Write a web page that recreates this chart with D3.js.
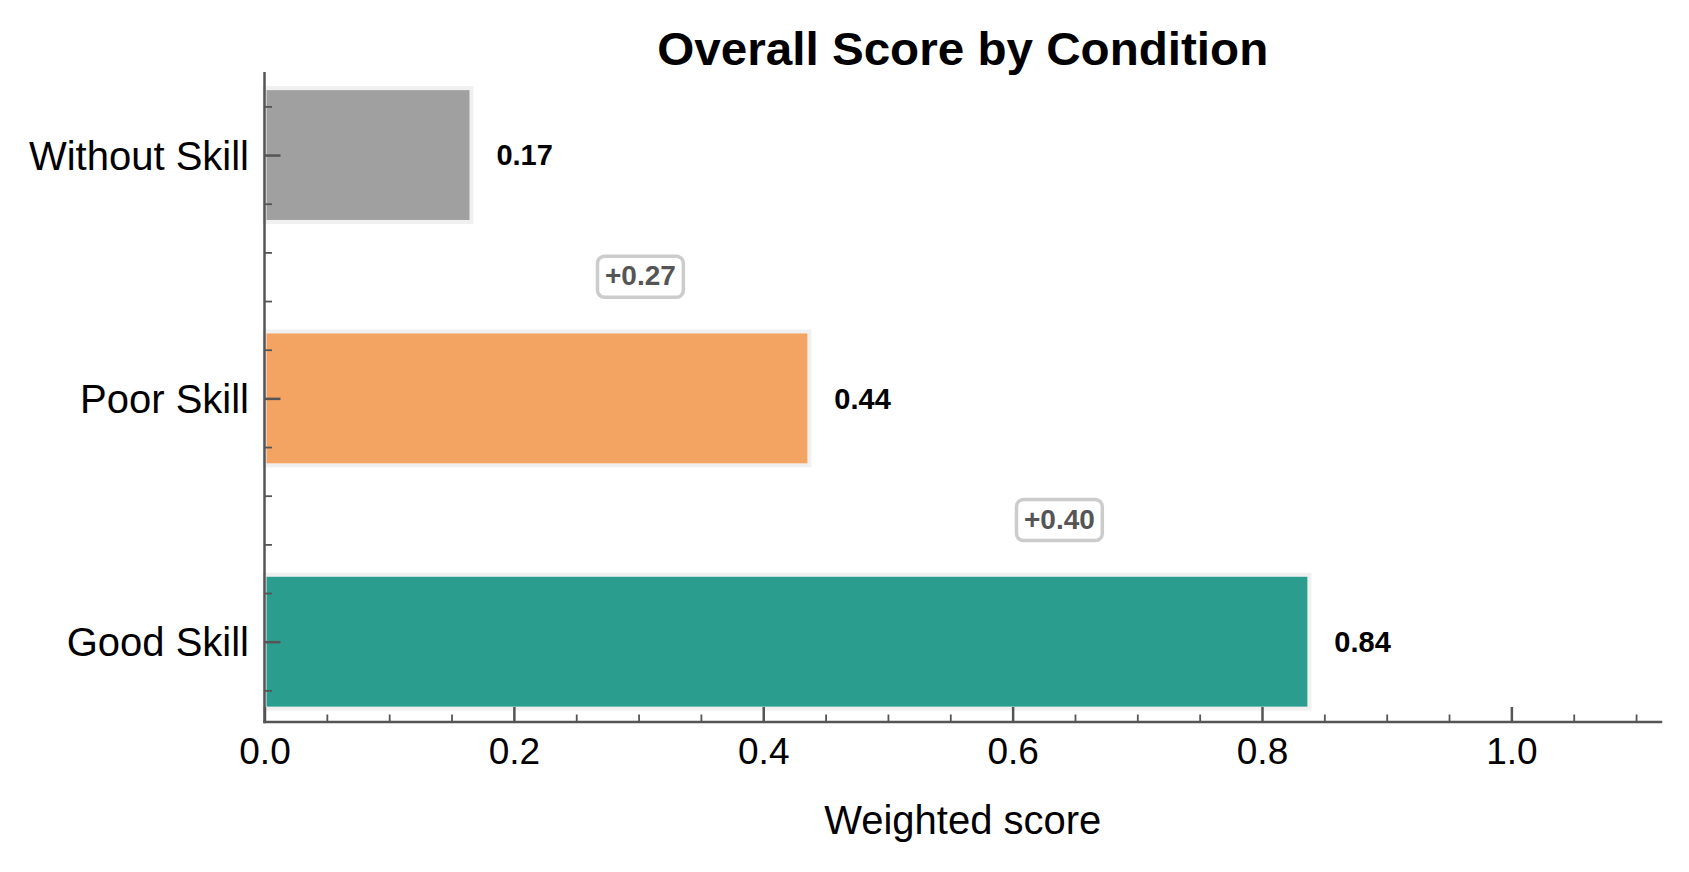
<!DOCTYPE html>
<html>
<head>
<meta charset="utf-8">
<script src="https://cdn.jsdelivr.net/npm/d3@7"></script>
<style>
  body { margin: 0; background: #fff; }
  text { font-family: "Liberation Sans", Arial, Helvetica, sans-serif; }
</style>
</head>
<body>
<div id="chart"></div>
<script>
// === data ===
const categories = ["Without Skill", "Poor Skill", "Good Skill"];
const scores = [0.166, 0.437, 0.838];
const barColors = ["#a0a0a0", "#f4a462", "#2a9d8f"];
const xTicks = [0, 0.2, 0.4, 0.6, 0.8, 1.0];
const xMinorTicks = [0.05, 0.1, 0.15, 0.25, 0.3, 0.35, 0.45, 0.5, 0.55, 0.65, 0.7, 0.75, 0.85, 0.9, 0.95, 1.05, 1.1];
const yMinorTicks = [-0.2, 0.2, 0.4, 0.6, 0.8, 1.2, 1.4, 1.6, 1.8, 2.2];

const width = 1689, height = 872;
const plot = {left: 264.5, right: 1661, top: 73.3, bottom: 722};
const axisColor = "#555555";

const svg = d3.select("#chart").append("svg")
    .attr("width", width).attr("height", height)
    .style("display", "block");

const x = d3.scaleLinear().domain([0, 1.12]).range([plot.left, plot.right]);
const y = d3.scaleLinear().domain([-0.336, 2.330]).range([plot.top, plot.bottom]);
const barH = 0.55;

// bars
svg.selectAll("rect.bar")
    .data(scores)
    .join("rect")
    .attr("class", "bar")
    .attr("x", x(0))
    .attr("y", (d, i) => y(i - barH / 2))
    .attr("width", d => x(d) - x(0))
    .attr("height", y(barH) - y(0))
    .attr("fill", (d, i) => barColors[i])
    .attr("stroke", "#f0f0f0")
    .attr("stroke-width", 4);

// value labels
svg.selectAll("text.val")
    .data(scores)
    .join("text")
    .attr("class", "val")
    .attr("x", d => x(d + 0.02))
    .attr("y", (d, i) => y(i) + 10.4)
    .attr("font-size", 29)
    .attr("font-weight", "bold")
    .attr("fill", "#000")
    .text(d => d.toFixed(2));

// delta boxes between bars
const deltas = d3.pairs(scores).map(([a, b], i) => ({mid: (a + b) / 2, diff: b - a, pos: i + 0.5}));
const dg = svg.selectAll("g.delta").data(deltas).join("g").attr("class", "delta");
dg.append("rect")
    .attr("rx", 7).attr("ry", 7)
    .attr("fill", "#fff")
    .attr("stroke", "#cccccc")
    .attr("stroke-width", 3.5);
dg.append("text")
    .attr("x", d => x(d.mid))
    .attr("y", d => y(d.pos) + 8.5)
    .attr("text-anchor", "middle")
    .attr("font-size", 28)
    .attr("font-weight", "bold")
    .attr("fill", "#555555")
    .text(d => "+" + d.diff.toFixed(2));
dg.each(function(d) {
    const g = d3.select(this);
    const bb = g.select("text").node().getBBox();
    g.select("rect")
        .attr("x", bb.x - 7.5)
        .attr("width", bb.width + 15)
        .attr("y", y(d.pos) - 20.5)
        .attr("height", 41);
});

// x axis
const xAxis = svg.append("g").attr("transform", `translate(0,${plot.bottom})`);
xAxis.call(d3.axisBottom(x).tickValues(xTicks).tickSizeInner(-15).tickSizeOuter(0)
    .tickFormat(d3.format(".1f")));
xAxis.selectAll("line").attr("stroke", axisColor).attr("stroke-width", 2.5);
xAxis.append("g").call(d3.axisBottom(x).tickValues(xMinorTicks).tickSizeInner(-7.5).tickSizeOuter(0).tickFormat(""))
    .call(g => g.selectAll("line").attr("stroke", axisColor).attr("stroke-width", 1.8))
    .select(".domain").remove();
xAxis.select(".domain").remove();
xAxis.selectAll("text")
    .attr("y", 42).attr("dy", null)
    .attr("font-size", 37).attr("fill", "#000")
    .attr("font-family", "'Liberation Sans', Arial, sans-serif");

// y axis
const yAxis = svg.append("g").attr("transform", `translate(${plot.left},0)`);
yAxis.call(d3.axisLeft(y).tickValues([0, 1, 2]).tickSizeInner(-16).tickSizeOuter(0)
    .tickFormat((d, i) => categories[i]));
yAxis.selectAll("line").attr("stroke", axisColor).attr("stroke-width", 2.5);
yAxis.append("g").call(d3.axisLeft(y).tickValues(yMinorTicks).tickSizeInner(-7.5).tickSizeOuter(0).tickFormat(""))
    .call(g => g.selectAll("line").attr("stroke", axisColor).attr("stroke-width", 1.8))
    .select(".domain").remove();
yAxis.select(".domain").remove();
yAxis.selectAll("text")
    .attr("x", -15.5).attr("dy", null).attr("y", 14)
    .attr("font-size", 40).attr("fill", "#000")
    .attr("font-family", "'Liberation Sans', Arial, sans-serif");

// spines (left + bottom only)
svg.append("line")
    .attr("x1", plot.left).attr("x2", plot.left)
    .attr("y1", plot.top).attr("y2", plot.bottom)
    .attr("stroke", axisColor).attr("stroke-width", 2.5).attr("stroke-linecap", "square");
svg.append("line")
    .attr("x1", plot.left).attr("x2", plot.right)
    .attr("y1", plot.bottom).attr("y2", plot.bottom)
    .attr("stroke", axisColor).attr("stroke-width", 2.5).attr("stroke-linecap", "square");

// x label
svg.append("text")
    .attr("x", (plot.left + plot.right) / 2)
    .attr("y", 834)
    .attr("text-anchor", "middle")
    .attr("font-size", 40)
    .attr("fill", "#000")
    .text("Weighted score");

// title
svg.append("text")
    .attr("x", (plot.left + plot.right) / 2)
    .attr("y", 65)
    .attr("text-anchor", "middle")
    .attr("font-size", 46)
    .attr("font-weight", "bold")
    .attr("fill", "#000")
    .attr("textLength", 611)
    .attr("lengthAdjust", "spacingAndGlyphs")
    .text("Overall Score by Condition");
</script>
</body>
</html>
